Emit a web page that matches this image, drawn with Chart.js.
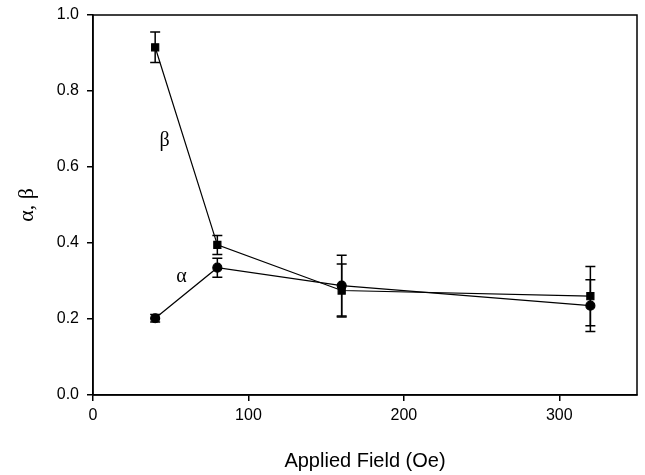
<!DOCTYPE html>
<html>
<head>
<meta charset="utf-8">
<script src="https://cdn.jsdelivr.net/npm/chart.js@4"></script>
<style>
  body { margin: 0; background: #fff; }
  #wrap { width: 645px; height: 475px; }
</style>
</head>
<body>
<div id="wrap"><canvas id="myChart"></canvas></div>
<script>
const fields = [40, 80, 160, 320];
const betaValues = [0.915, 0.395, 0.275, 0.26];
const betaErrors = [0.04, 0.025, 0.07, 0.078];
const alphaValues = [0.202, 0.335, 0.288, 0.235];
const alphaErrors = [0.01, 0.025, 0.08, 0.068];
const xTicks = [0, 100, 200, 300];
const yTicks = [0, 0.2, 0.4, 0.6, 0.8, 1.0];

// series labels placed next to the curves (data coordinates)
const seriesLabels = [
    { text: "β", x: 46, y: 0.67 },
    { text: "α", x: 57, y: 0.31 }
];

const errorBars = {
    id: "errorBars",
    afterDatasetsDraw(chart) {
        const ctx = chart.ctx;
        const xs = chart.scales.x, ys = chart.scales.y;
        ctx.save();
        ctx.strokeStyle = "#000";
        ctx.lineWidth = 1.5;
        chart.data.datasets.forEach(ds => {
            ds.data.forEach((p, i) => {
                const e = ds.errors[i];
                const px = xs.getPixelForValue(p.x);
                const top = ys.getPixelForValue(p.y + e);
                const bot = ys.getPixelForValue(p.y - e);
                ctx.beginPath();
                ctx.moveTo(px, top); ctx.lineTo(px, bot);
                ctx.moveTo(px - 5, top); ctx.lineTo(px + 5, top);
                ctx.moveTo(px - 5, bot); ctx.lineTo(px + 5, bot);
                ctx.stroke();
            });
        });
        // frame around plot area
        const a = chart.chartArea;
        ctx.lineWidth = 1.5;
        ctx.strokeRect(a.left, a.top, a.right - a.left, a.bottom - a.top);
        // curve labels
        ctx.fillStyle = "#000";
        ctx.font = "20px 'Liberation Serif', serif";
        ctx.textAlign = "center";
        ctx.textBaseline = "middle";
        seriesLabels.forEach(l => {
            ctx.fillText(l.text, xs.getPixelForValue(l.x), ys.getPixelForValue(l.y));
        });
        ctx.restore();
    }
};

const ctx = document.getElementById("myChart").getContext("2d");

new Chart(ctx, {
    type: "line",
    data: {
        datasets: [{
            label: "β",
            data: fields.map((f, i) => ({ x: f, y: betaValues[i] })),
            errors: betaErrors,
            borderColor: "#000",
            backgroundColor: "#000",
            borderWidth: 1.2,
            pointStyle: "rect",
            pointRadius: 5,
            tension: 0
        }, {
            label: "α",
            data: fields.map((f, i) => ({ x: f, y: alphaValues[i] })),
            errors: alphaErrors,
            borderColor: "#000",
            backgroundColor: "#000",
            borderWidth: 1.2,
            pointStyle: "circle",
            pointRadius: 4.5,
            tension: 0
        }]
    },
    options: {
        responsive: true,
        maintainAspectRatio: false,
        animation: false,
        layout: { padding: { left: 0, top: 15, right: 8, bottom: 0 } },
        scales: {
            x: {
                type: "linear",
                min: 0,
                max: 350,
                afterBuildTicks: s => { s.ticks = xTicks.map(v => ({ value: v })); },
                afterFit: s => { s.height = 80; s.paddingLeft = 0; s.paddingRight = 0; },
                grid: { drawOnChartArea: false, color: "#000", tickLength: 6, lineWidth: 1.5 },
                border: { color: "#000", width: 1.5 },
                ticks: {
                    color: "#000",
                    padding: 5,
                    font: { family: "'Liberation Sans', Arial, sans-serif", size: 16 }
                },
                title: {
                    display: true,
                    text: "Applied Field (Oe)",
                    color: "#000",
                    padding: { top: 0, bottom: 2 },
                    font: { family: "'Liberation Sans', Arial, sans-serif", size: 20 }
                }
            },
            y: {
                min: 0,
                max: 1,
                afterBuildTicks: s => { s.ticks = yTicks.map(v => ({ value: v })); },
                afterFit: s => { s.width = 93; s.paddingTop = 0; s.paddingBottom = 0; },
                grid: { drawOnChartArea: false, color: "#000", tickLength: 6, lineWidth: 1.5 },
                border: { color: "#000", width: 1.5 },
                ticks: {
                    color: "#000",
                    padding: 8,
                    callback: v => v.toFixed(1),
                    font: { family: "'Liberation Sans', Arial, sans-serif", size: 16 }
                },
                title: {
                    display: true,
                    text: "α, β",
                    color: "#000",
                    padding: { top: 14, bottom: 0 },
                    font: { family: "'Liberation Serif', serif", size: 22 }
                }
            }
        },
        plugins: {
            legend: { display: false },
            tooltip: { enabled: false }
        }
    },
    plugins: [errorBars]
});
</script>
</body>
</html>
